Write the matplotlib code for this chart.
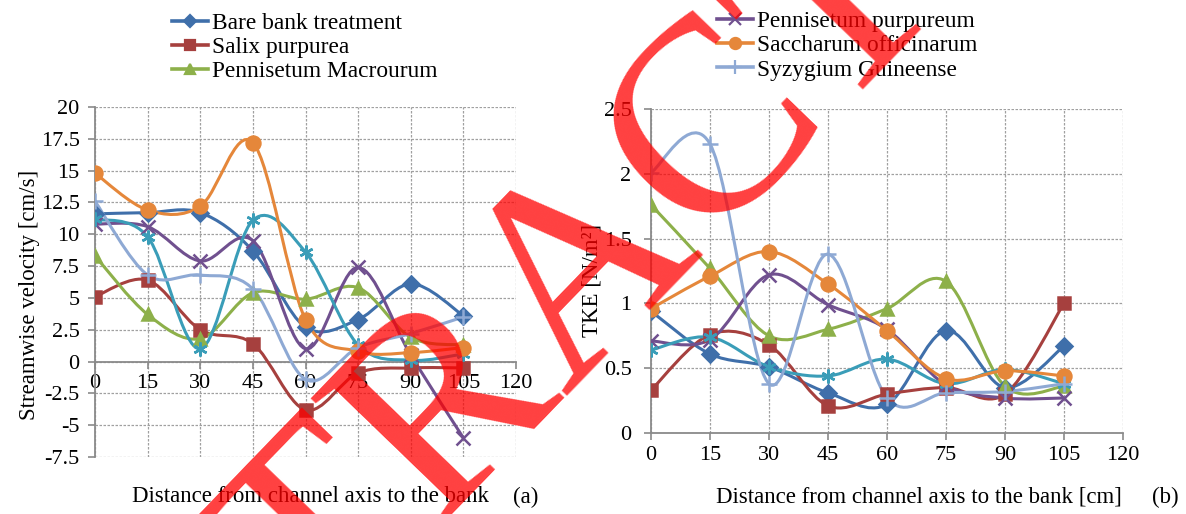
import numpy as np
import matplotlib
matplotlib.use("Agg")
import matplotlib.pyplot as plt
from matplotlib.path import Path
from matplotlib.patches import PathPatch
from matplotlib.lines import Line2D

plt.rcParams['font.family'] = ['Liberation Serif', 'DejaVu Serif']

# distance from channel axis [cm]
distance = [0, 15, 30, 45, 60, 75, 90, 105]

names = ["Bare bank treatment", "Salix purpurea", "Pennisetum Macrourum",
         "Pennisetum purpureum", "", "Saccharum officinarum", "Syzygium Guineense"]

# (a) streamwise velocity [cm/s]
vel_bare = [11.6, 11.7, 11.7, 8.7, 2.7, 3.3, 6.1, 3.6]
vel_salix = [5.1, 6.4, 2.5, 1.4, -3.8, -0.9, -0.5, -0.5]
vel_macrourum = [8.3, 3.7, 1.8, 5.4, 4.9, 5.8, 1.9, 1.3]
vel_purpureum = [10.8, 10.6, 7.9, 9.5, 1.0, 7.4, 0.5, -6.0]
vel_series5 = [11.2, 9.8, 1.0, 11.1, 8.6, 1.3, 0.1, 0.6]
vel_saccharum = [14.8, 11.9, 12.2, 17.2, 3.3, 0.8, 0.7, 1.1]
vel_syzygium = [12.6, 6.8, 6.8, 5.7, -1.4, 1.1, 2.2, 3.5]

# (b) TKE [N/m2]
tke_bare = [0.94, 0.61, 0.51, 0.31, 0.22, 0.79, 0.35, 0.67]
tke_salix = [0.33, 0.76, 0.68, 0.21, 0.30, 0.35, 0.30, 1.00]
tke_macrourum = [1.76, 1.27, 0.75, 0.80, 0.96, 1.17, 0.36, 0.36]
tke_purpureum = [0.71, 0.72, 1.22, 0.99, 0.80, 0.37, 0.27, 0.27]
tke_series5 = [0.64, 0.74, 0.51, 0.44, 0.57, 0.38, 0.49, 0.38]
tke_saccharum = [0.96, 1.21, 1.40, 1.15, 0.79, 0.42, 0.48, 0.44]
tke_syzygium = [2.01, 2.23, 0.38, 1.38, 0.27, 0.31, 0.32, 0.38]

velocity = [vel_bare, vel_salix, vel_macrourum, vel_purpureum, vel_series5, vel_saccharum, vel_syzygium]
tke = [tke_bare, tke_salix, tke_macrourum, tke_purpureum, tke_series5, tke_saccharum, tke_syzygium]

colors = ['#3F6FAA', '#A6403E', '#8DB04A', '#70508F', '#3A9DB8', '#E5873A', '#8EA9D4']
markers = ['D', 's', '^', 'x', (6, 2, 0), 'o', '+']
msizes = [8, 9, 9, 10, 10, 10, 12]

W, H = 1186, 514


def smooth_path(xs, ys):
    # excel-like smoothed line (catmull-rom as bezier)
    pts = np.column_stack([xs, ys]).astype(float)
    n = len(pts)
    verts = [pts[0]]
    codes = [Path.MOVETO]
    for i in range(n - 1):
        p0 = pts[i - 1] if i > 0 else pts[i]
        p1 = pts[i]
        p2 = pts[i + 1]
        p3 = pts[i + 2] if i + 2 < n else pts[i + 1]
        verts += [p1 + (p2 - p0) / 6, p2 - (p3 - p1) / 6, p2]
        codes += [Path.CURVE4] * 3
    return Path(verts, codes)


def draw(ax, data):
    for vals, c, m, ms in zip(data, colors, markers, msizes):
        ax.add_patch(PathPatch(smooth_path(distance, vals), fill=False,
                               edgecolor=c, lw=2.2, zorder=3))
        ax.plot(distance, vals, ls='none', marker=m, ms=ms, color=c,
                mec=c, mew=1.8, zorder=4)


def style(ax, lo, hi, step, ypad):
    ax.set_xlim(0, 120)
    ax.set_xticks(range(0, 121, 15))
    ax.set_ylim(lo, hi)
    yt = np.arange(lo, hi + 0.001, step)
    ax.set_yticks(yt)
    ax.set_yticklabels([f'{v:g}' for v in yt])
    ax.grid(True, color='#a0a0a0', linestyle=(0, (2, 1.2)), linewidth=0.9)
    ax.set_axisbelow(True)
    for s in ['top', 'right']:
        ax.spines[s].set_visible(False)
    for s in ['left', 'bottom']:
        ax.spines[s].set_color('#8a8a8a')
        ax.spines[s].set_linewidth(1.3)
    ax.tick_params(axis='both', direction='out', length=5, color='#8a8a8a',
                   width=1.2, labelsize=16)
    ax.tick_params(axis='y', pad=ypad)
    ax.tick_params(axis='x', pad=4)


fig = plt.figure(figsize=(W / 100, H / 100), dpi=100)

ax1 = fig.add_axes([95 / W, 1 - 457 / H, 421 / W, 350 / H])
ax2 = fig.add_axes([651 / W, 1 - 433 / H, 472 / W, 324 / H])

draw(ax1, velocity)
draw(ax2, tke)
style(ax1, -7.5, 20, 2.5, 6)
style(ax2, 0, 2.5, 0.5, 9)
ax1.spines['bottom'].set_position(('data', 0))

fig.text(30 / W, 1 - 295 / H, 'Streamwise velocity [cm/s]', rotation=90,
         ha='center', va='center', fontsize=16.5)
fig.text(592 / W, 1 - 280 / H, 'TKE [N/m²]', rotation=90,
         ha='center', va='center', fontsize=16.5)
fig.text(310 / W, 1 - 497 / H, 'Distance from channel axis to the bank',
         ha='center', va='center', fontsize=16.5)
fig.text(526 / W, 1 - 497 / H, '(a)', ha='center', va='center', fontsize=16.5)
fig.text(919 / W, 1 - 497 / H, 'Distance from channel axis to the bank [cm]',
         ha='center', va='center', fontsize=16.5)
fig.text(1165 / W, 1 - 497 / H, '(b)', ha='center', va='center', fontsize=16.5)

handles = [Line2D([], [], color=c, marker=m, ms=ms * 0.8, mec=c, mew=1.6, lw=2.6)
           for c, m, ms in zip(colors, markers, msizes)]
leg_kw = dict(frameon=False, fontsize=16.8, handlelength=1.55, handletextpad=0.17,
              labelspacing=0.12, borderpad=0, borderaxespad=0, loc='upper left')
fig.legend(handles[:3], names[:3], bbox_to_anchor=(172 / W, 1 - 12.5 / H), **leg_kw)
fig.legend([handles[3], handles[5], handles[6]], [names[3], names[5], names[6]],
           bbox_to_anchor=(717 / W, 1 - 11 / H), **leg_kw)

# retraction stamp across the figure
fig.text(638 / W, 1 - 314 / H, 'RETRACTED', rotation=46, rotation_mode='anchor',
         ha='center', va='baseline', fontsize=200, color='red', alpha=0.75,
         zorder=10)

fig.savefig('out.png', dpi=100)
